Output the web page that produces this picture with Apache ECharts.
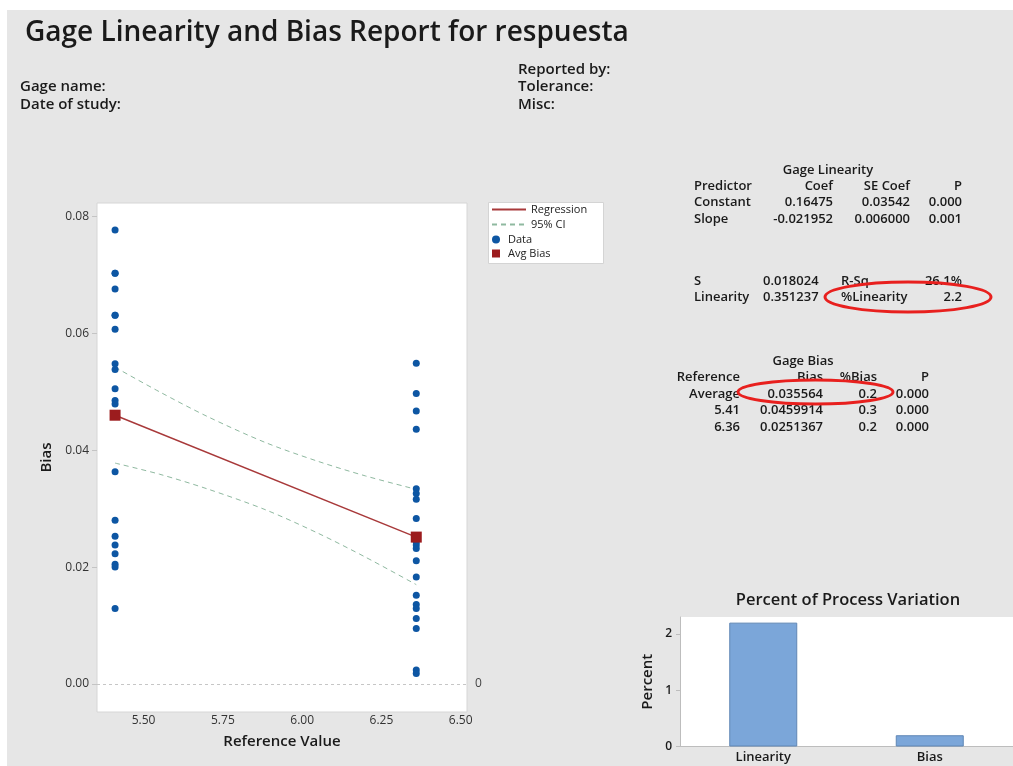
<!DOCTYPE html>
<html>
<head>
<meta charset="utf-8">
<script src="https://cdn.jsdelivr.net/npm/echarts@6/dist/echarts.min.js"></script>
<style>
  html, body { margin: 0; padding: 0; background: #ffffff; }
  #chart { width: 1013px; height: 766px; }
</style>
</head>
<body>
<div id="chart"></div>
<script>
// Reference parts and measured bias per part
const refValues = [5.41, 6.36];
const bias541 = [0.0777, 0.0703, 0.0703, 0.0676, 0.0631, 0.0631, 0.0607, 0.0548, 0.0538, 0.0505,
                 0.0485, 0.0479, 0.0363, 0.0280, 0.0253, 0.0238, 0.0223, 0.0205, 0.0200, 0.0129];
const bias636 = [0.0549, 0.0497, 0.0467, 0.0436, 0.0334, 0.0326, 0.0316, 0.0283, 0.0243, 0.0238,
                 0.0232, 0.0211, 0.0183, 0.0152, 0.0136, 0.0129, 0.0112, 0.0095, 0.0024, 0.0018];
const avgBias = [0.0459914, 0.0251367];

// Fitted regression line and its 95% confidence band
const regX = [5.41, 6.36];
const regY = [0.04599, 0.02514];
const ciX = [5.41, 5.55, 5.70, 5.885, 6.05, 6.20, 6.36];
const ciUpper = [0.0542, 0.0500, 0.0458, 0.0413, 0.0381, 0.0356, 0.0333];
const ciLower = [0.0378, 0.0359, 0.0334, 0.0298, 0.0258, 0.0217, 0.0170];

const xTicks = [5.5, 5.75, 6.0, 6.25, 6.5];
const yTicks = [0, 0.02, 0.04, 0.06, 0.08];

// Percent of process variation
const pctCategories = ['Linearity', 'Bias'];
const pctValues = [2.2, 0.2];
const pctTicks = [0, 1, 2];

// Report tables
const linHeader = ['Predictor', 'Coef', 'SE Coef', 'P'];
const linRows = [
  ['Constant', '0.16475', '0.03542', '0.000'],
  ['Slope', '-0.021952', '0.006000', '0.001']
];
const linStats = [
  ['S', '0.018024', 'R-Sq', '26.1%'],
  ['Linearity', '0.351237', '%Linearity', '2.2']
];
const biasHeader = ['Reference', 'Bias', '%Bias', 'P'];
const biasRows = [
  ['Average', '0.035564', '0.2', '0.000'],
  ['5.41', '0.0459914', '0.3', '0.000'],
  ['6.36', '0.0251367', '0.2', '0.000']
];

const FONT = '"Open Sans", "Noto Sans", sans-serif';
const INK = '#1a1a1a';

function txt(x, y, s, opt) {
  opt = opt || {};
  return {
    type: 'text', x: x, y: y, z: 10,
    style: {
      text: s,
      fill: opt.fill || INK,
      font: (opt.weight || 600) + ' ' + (opt.size || 13) + 'px ' + FONT,
      textAlign: opt.align || 'left',
      textVerticalAlign: 'middle'
    }
  };
}

const graphics = [];
// page panel
graphics.push({ type: 'rect', z: -10, shape: { x: 7, y: 10, width: 1006, height: 756 }, style: { fill: '#e6e6e6' } });
// header
graphics.push(txt(25, 33, 'Gage Linearity and Bias Report for respuesta', { size: 28, weight: 600 }));
graphics.push(txt(20, 87, 'Gage name:', { size: 15 }));
graphics.push(txt(20, 105, 'Date of study:', { size: 15 }));
graphics.push(txt(518, 70, 'Reported by:', { size: 15 }));
graphics.push(txt(518, 87, 'Tolerance:', { size: 15 }));
graphics.push(txt(518, 105, 'Misc:', { size: 15 }));

// Gage Linearity table
graphics.push(txt(828, 170, 'Gage Linearity', { align: 'center' }));
const linCols = [[694, 'left'], [833, 'right'], [910, 'right'], [962, 'right']];
[linHeader].concat(linRows).forEach(function (row, r) {
  row.forEach(function (cell, c) {
    graphics.push(txt(linCols[c][0], 186 + r * 16.5, cell, { align: linCols[c][1] }));
  });
});
const statCols = [[694, 'left'], [763, 'left'], [841, 'left'], [962, 'right']];
linStats.forEach(function (row, r) {
  row.forEach(function (cell, c) {
    graphics.push(txt(statCols[c][0], 281 + r * 16, cell, { align: statCols[c][1] }));
  });
});

// Gage Bias table
graphics.push(txt(803, 361, 'Gage Bias', { align: 'center' }));
const biasCols = [[740, 'right'], [823, 'right'], [877, 'right'], [929, 'right']];
[biasHeader].concat(biasRows).forEach(function (row, r) {
  row.forEach(function (cell, c) {
    graphics.push(txt(biasCols[c][0], 377.5 + r * 16.5, cell, { align: biasCols[c][1] }));
  });
});

// highlight rings
graphics.push({ type: 'ellipse', z: 20, shape: { cx: 908, cy: 297, rx: 83, ry: 15 },
  style: { fill: 'none', stroke: '#e8201e', lineWidth: 3 } });
graphics.push({ type: 'ellipse', z: 20, shape: { cx: 815.5, cy: 392, rx: 77.5, ry: 12 },
  style: { fill: 'none', stroke: '#e8201e', lineWidth: 3 } });

// bar panel title
graphics.push(txt(848, 600, 'Percent of Process Variation', { align: 'center', size: 16.5 }));

// legend frame
graphics.push({ type: 'rect', z: 1, shape: { x: 488.5, y: 202.5, width: 115, height: 61 },
  style: { fill: '#ffffff', stroke: '#d4d4d4', lineWidth: 1 } });

const scatterData = [];
bias541.forEach(function (v) { scatterData.push([refValues[0], v]); });
bias636.forEach(function (v) { scatterData.push([refValues[1], v]); });

const CI_COLOR = '#8fb9a0';
const REG_COLOR = '#a8393a';

const option = {
  animation: false,
  backgroundColor: 'transparent',
  textStyle: { fontFamily: FONT },
  graphic: graphics,
  legend: [
    {
      data: ['Regression', '95% CI'], orient: 'vertical', left: 491, top: 204, padding: 0,
      itemWidth: 34, itemHeight: 8, itemGap: 4, z: 5,
      itemStyle: { color: 'transparent', borderColor: 'transparent', borderWidth: 0 },
      textStyle: { fontSize: 11, color: '#222', fontFamily: FONT }
    },
    {
      data: [{ name: 'Data', icon: 'circle' }, { name: 'Avg Bias', icon: 'path://M0,0L10,0L10,10L0,10Z' }],
      orient: 'vertical', left: 492, top: 234, padding: 0,
      itemWidth: 14, itemHeight: 8, itemGap: 3, z: 5, symbolKeepAspect: true,
      textStyle: { fontSize: 11, color: '#222', fontFamily: FONT }
    }
  ],
  grid: [
    { left: 97, top: 203, width: 370, height: 509, show: true, backgroundColor: '#ffffff', borderColor: '#d6d6d6', borderWidth: 1 },
    { left: 680, top: 617, width: 340, height: 129.5, show: true, backgroundColor: '#ffffff', borderWidth: 0 }
  ],
  xAxis: [
    {
      gridIndex: 0, type: 'value', min: 5.353, max: 6.52,
      name: 'Reference Value', nameLocation: 'middle', nameGap: 22,
      nameTextStyle: { fontSize: 15, fontWeight: 600, color: INK, fontFamily: FONT },
      axisLine: { show: false }, axisTick: { show: false }, splitLine: { show: false },
      axisLabel: { customValues: xTicks, margin: 3, fontSize: 12, color: '#333', fontFamily: FONT,
        formatter: function (v) { return v.toFixed(2); } }
    },
    {
      gridIndex: 1, type: 'category', data: pctCategories,
      axisLine: { lineStyle: { color: '#bdbdbd' } }, axisTick: { show: false },
      axisLabel: { margin: 4, fontSize: 13, fontWeight: 600, color: INK, fontFamily: FONT }
    }
  ],
  yAxis: [
    {
      gridIndex: 0, type: 'value', min: -0.00479, max: 0.0823,
      name: 'Bias', nameLocation: 'middle', nameGap: 43,
      nameTextStyle: { fontSize: 15, fontWeight: 600, color: INK, fontFamily: FONT },
      axisLine: { show: false }, splitLine: { show: false },
      axisTick: { show: true, customValues: yTicks, length: 5, lineStyle: { color: '#c4c4c4' } },
      axisLabel: { customValues: yTicks, margin: 8, fontSize: 12, color: '#333', fontFamily: FONT,
        formatter: function (v) { return v.toFixed(2); } }
    },
    {
      gridIndex: 1, type: 'value', min: 0, max: 2.3,
      name: 'Percent', nameLocation: 'middle', nameGap: 25,
      nameTextStyle: { fontSize: 15, fontWeight: 600, color: INK, fontFamily: FONT },
      axisLine: { show: true, lineStyle: { color: '#bdbdbd' } }, splitLine: { show: false },
      axisTick: { show: true, customValues: pctTicks, length: 4, lineStyle: { color: '#bdbdbd' } },
      axisLabel: { customValues: pctTicks, margin: 8, fontSize: 12, fontWeight: 600, color: INK, fontFamily: FONT }
    }
  ],
  series: [
    {
      name: 'Regression', type: 'line', xAxisIndex: 0, yAxisIndex: 0,
      data: regX.map(function (x, i) { return [x, regY[i]]; }),
      symbol: 'none', lineStyle: { color: REG_COLOR, width: 1.5 }, itemStyle: { color: REG_COLOR }, z: 3
    },
    {
      name: '95% CI', type: 'line', xAxisIndex: 0, yAxisIndex: 0, smooth: 0.3,
      data: ciX.map(function (x, i) { return [x, ciUpper[i]]; }),
      symbol: 'none', lineStyle: { color: CI_COLOR, width: 1, type: [5, 4] }, itemStyle: { color: CI_COLOR }, z: 2
    },
    {
      name: '95% CI', type: 'line', xAxisIndex: 0, yAxisIndex: 0, smooth: 0.3,
      data: ciX.map(function (x, i) { return [x, ciLower[i]]; }),
      symbol: 'none', lineStyle: { color: CI_COLOR, width: 1, type: [5, 4] }, itemStyle: { color: CI_COLOR }, z: 2
    },
    {
      name: 'Data', type: 'scatter', xAxisIndex: 0, yAxisIndex: 0,
      data: scatterData, symbolSize: 7, itemStyle: { color: '#0d56a3', opacity: 1 }, z: 4,
      markLine: {
        silent: true, symbol: 'none', animation: false,
        data: [{ yAxis: 0 }],
        lineStyle: { color: '#c6c6c6', width: 1, type: [3, 3] },
        label: { show: true, position: 'end', distance: 8, formatter: '0', fontSize: 12, color: '#444', fontFamily: FONT }
      }
    },
    {
      name: 'Avg Bias', type: 'scatter', xAxisIndex: 0, yAxisIndex: 0,
      data: refValues.map(function (x, i) { return [x, avgBias[i]]; }),
      symbol: 'rect', symbolSize: 11, itemStyle: { color: '#9c1c1e', opacity: 1 }, z: 5
    },
    {
      name: 'Percent', type: 'bar', xAxisIndex: 1, yAxisIndex: 1,
      data: pctValues, barWidth: 68,
      itemStyle: { color: '#7ba6d9', borderColor: '#5f86b5', borderWidth: 1 }
    }
  ]
};

const chart = echarts.init(document.getElementById('chart'), null, { renderer: 'canvas' });
chart.setOption(option);
</script>
</body>
</html>
